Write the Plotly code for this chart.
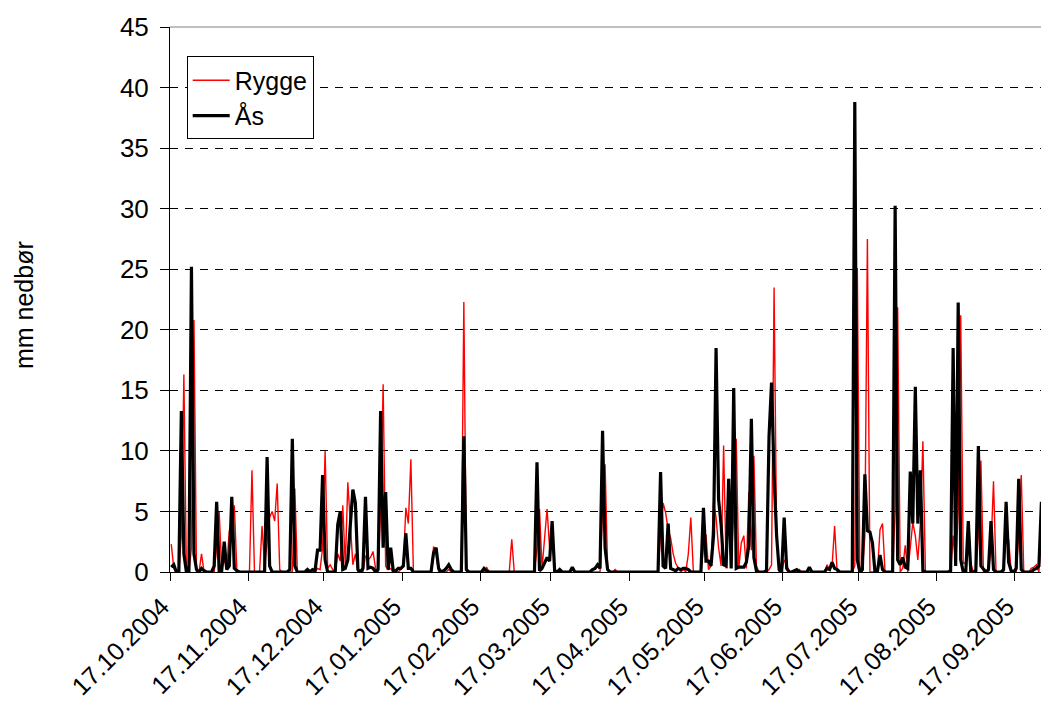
import datetime as dt
import plotly.graph_objects as go

start_date = "2004-10-17"
tick_dates = ["2004-10-17", "2004-11-17", "2004-12-17", "2005-01-17", "2005-02-17",
              "2005-03-17", "2005-04-17", "2005-05-17", "2005-06-17", "2005-07-17",
              "2005-08-17", "2005-09-17"]
tick_labels = ["17.10.2004", "17.11.2004", "17.12.2004", "17.01.2005", "17.02.2005",
               "17.03.2005", "17.04.2005", "17.05.2005", "17.06.2005", "17.07.2005",
               "17.08.2005", "17.09.2005"]

# daily precipitation (mm), 17.10.2004 - 30.09.2005
rygge = [
    2.3, 0.3, 0, 0, 3.0, 16.3, 0, 0, 2.0, 20.8,
    0, 0, 1.5, 0, 0, 0, 0, 0, 2.0, 5.0,
    0.2, 1.0, 0.3, 3.4, 4.0, 5.5, 0.2, 0, 0, 0,
    0, 0, 8.4, 0, 0, 0, 3.8, 0.5, 2.5, 4.5,
    5.0, 4.2, 7.3, 0.2, 0, 0, 0, 0, 0, 6.9,
    0, 0, 0, 0, 0, 0, 0, 0, 0.3, 0.2,
    2.0, 10.0, 0.3, 0.6, 0.2, 0, 1.5, 0.9, 5.5, 0.5,
    7.4, 3.8, 0.6, 1.5, 0, 0, 0, 1.35, 1.0, 1.2,
    1.7, 0.3, 0, 5.0, 15.5, 0.5, 0.2, 0.3, 0, 0,
    0, 0.2, 0.5, 5.3, 4.0, 9.3, 0, 0, 0, 0,
    0, 0, 0, 0, 2.1, 1.5, 0, 0, 0, 0,
    0.2, 0, 0, 0, 0, 0, 22.3, 0.1, 0, 0,
    0, 0, 0, 0, 0, 0.4, 0, 0, 0, 0,
    0, 0, 0, 0, 0, 2.7, 0, 0, 0, 0,
    0, 0, 0, 0, 0, 2.0, 5.2, 0.3, 2.5, 5.2,
    2.0, 3.0, 0, 0, 0, 0, 0, 0, 0, 0.2,
    0, 0, 0, 0, 0, 0, 0, 0, 0, 0,
    0, 5.0, 8.9, 0.3, 0, 0, 0.2, 0, 0, 0,
    0, 0, 0, 0, 0, 0, 0, 0, 0, 0,
    0, 0, 0, 0, 3.0, 5.7, 4.9, 3.5, 2.8, 1.5,
    0.7, 0.3, 0, 0.2, 0, 1.5, 4.5, 0, 0, 0,
    0, 2.0, 3.1, 0.2, 0.5, 5.7, 4.5, 2.0, 0.5, 10.45,
    0.3, 7.7, 0.5, 5.0, 11.0, 0.3, 2.4, 3.0, 0.3, 6.6,
    1.8, 9.6, 0.5, 0, 0, 0, 0, 0.2, 0.6, 23.5,
    3.0, 0, 0, 1.0, 0.6, 0, 0, 0, 0, 0.2,
    0, 0, 0, 0, 0, 0, 0, 0, 0, 0,
    0.6, 0.2, 0.5, 3.8, 0, 0, 0, 0, 0, 0,
    0, 0.5, 25.1, 0, 0, 3.0, 27.5, 0, 0, 0,
    0, 3.5, 4.0, 0, 0, 0, 0, 5.0, 21.85, 0,
    0.3, 2.2, 0, 2.0, 4.1, 3.0, 1.0, 4.0, 10.8, 0,
    0, 0, 0, 0, 0, 0, 0, 0, 0, 0,
    3.0, 0.5, 5.0, 21.2, 0.7, 0.8, 2.0, 0.7, 0, 0,
    3.0, 9.2, 0, 0, 0, 2.0, 7.5, 0, 0, 0,
    0, 3.0, 2.7, 0, 0, 0, 3.0, 8.0, 0, 0,
    0, 0.3, 0.4, 0.6, 0, 3.0, 4.4, 0.2, 0.5,
]

aas = [
    0.4, 0.6, 0, 0, 13.3, 1.5, 0, 0, 25.2, 1.5,
    0.2, 0, 0.3, 0.1, 0, 0, 0, 0.5, 5.8, 0,
    0.1, 2.5, 0.2, 0.5, 6.2, 0.3, 0.1, 0, 0, 0,
    0, 0, 0, 0, 0, 0, 0, 0, 9.5, 0.5,
    0, 0, 0, 0, 0, 0, 0, 0.2, 11.0, 0.5,
    0, 0, 0, 0, 0.2, 0, 0.2, 0.1, 1.8, 1.8,
    8.0, 1.0, 0, 0, 0, 0, 3.9, 5.0, 0.2, 0.3,
    1.0, 3.8, 6.8, 5.7, 0.2, 0, 0.3, 6.2, 0.3, 0.4,
    0.3, 0, 0.2, 13.3, 2.0, 6.6, 0.2, 2.0, 0.1, 0.1,
    0.3, 0.3, 0.5, 3.2, 0.3, 0.3, 0, 0, 0, 0,
    0, 0, 0, 0, 1.6, 2.0, 0.3, 0, 0.1, 0.3,
    0.6, 0.2, 0, 0, 0, 0, 11.2, 0.2, 0, 0,
    0, 0, 0, 0, 0.3, 0.1, 0, 0, 0, 0,
    0, 0, 0, 0, 0, 0, 0, 0, 0, 0,
    0, 0, 0, 0, 0, 9.05, 0.1, 0.3, 0.8, 1.2,
    0.9, 4.2, 0.1, 0, 0.2, 0, 0, 0, 0, 0.4,
    0, 0, 0, 0, 0, 0, 0, 0.2, 0.3, 0.6,
    0.3, 11.66, 2.0, 0.2, 0, 0, 0, 0, 0, 0,
    0, 0, 0, 0, 0, 0, 0, 0, 0, 0,
    0, 0, 0, 0, 8.25, 0.5, 0.3, 4.0, 0.3, 0.2,
    0.1, 0.3, 0.2, 0.3, 0.3, 0.2, 0, 0, 0, 0,
    0, 5.3, 0.9, 0.9, 0.5, 3.0, 18.5, 6.0, 3.9, 0.6,
    0.5, 7.7, 0.3, 15.2, 0.3, 0.4, 0.4, 0.4, 0.8, 2.2,
    12.65, 1.2, 0.1, 0, 0, 0, 0.1, 11.2, 15.65, 8.0,
    3.0, 0.2, 0, 4.5, 0.3, 0, 0, 0.1, 0.2, 0,
    0, 0, 0, 0.4, 0, 0, 0, 0, 0, 0,
    0.3, 0.2, 0.8, 0.3, 0.2, 0, 0, 0, 0, 0,
    0, 38.8, 1.0, 0, 0.2, 8.06, 3.4, 3.3, 2.4, 0,
    0.1, 1.4, 0.2, 0, 0, 0, 0, 30.25, 1.0, 0.6,
    1.2, 0.4, 0.3, 8.3, 4.0, 15.3, 4.0, 8.4, 0.1, 0,
    0, 0, 0, 0.05, 0, 0, 0, 0, 0, 0.1,
    18.5, 0.5, 22.25, 1.0, 0, 0, 4.2, 0, 0, 0.1,
    10.4, 0.5, 0.2, 0, 0.2, 4.2, 0.2, 0, 0, 0,
    0.2, 5.8, 0.8, 0.1, 0, 0.3, 7.7, 0.2, 0, 0,
    0, 0, 0.2, 0.3, 0.5, 5.8, 0.5, 0.3, 1.8,
]

t0 = dt.datetime.fromisoformat(start_date)
dates = [t0 + dt.timedelta(days=i, hours=12) for i in range(len(rygge))]
x_end = dates[-1]

fig = go.Figure()
fig.add_trace(go.Scatter(x=dates, y=rygge, mode="lines", name="Rygge",
                         line=dict(color="#FF0000", width=1.4)))
fig.add_trace(go.Scatter(x=dates, y=aas, mode="lines", name="Ås",
                         line=dict(color="#000000", width=3.2)))

font_family = "Liberation Sans, Arial, sans-serif"
# the page body adds an 8px offset, so the figure is 8px smaller than the window
fig.update_layout(
    width=1041, height=698,
    margin=dict(l=162, r=0, t=19, b=134, autoexpand=False),
    paper_bgcolor="white", plot_bgcolor="white",
    font=dict(family=font_family, color="black", size=26),
    showlegend=True,
    legend=dict(x=0.019, y=0.946, xanchor="left", yanchor="top",
                bordercolor="black", borderwidth=1, bgcolor="white",
                font=dict(size=25), tracegroupgap=0, itemwidth=37),
    xaxis=dict(type="date", range=[t0, x_end], automargin=False,
               tickvals=tick_dates, ticktext=tick_labels, tickangle=-45,
               ticks="outside", ticklen=8, tickcolor="black",
               showline=True, linecolor="black", linewidth=1,
               showgrid=False, zeroline=False,
               tickfont=dict(size=25), ticklabelshift=-8, ticklabelstandoff=1),
    yaxis=dict(range=[0, 45], dtick=5, tick0=0, automargin=False,
               ticks="outside", ticklen=9, tickcolor="black",
               showline=True, linecolor="black", linewidth=1,
               showgrid=True, gridcolor="black", gridwidth=1, griddash="8px,7px",
               zeroline=False, tickfont=dict(size=26), ticklabelstandoff=6),
    shapes=[dict(type="line", xref="paper", yref="paper", x0=0, x1=1, y0=1, y1=1,
                 line=dict(color="#808080", width=1))],
    annotations=[dict(text="mm nedbør", xref="paper", yref="paper",
                      x=-0.166, y=0.49, xanchor="center", yanchor="middle",
                      textangle=-90, showarrow=False, font=dict(size=25))],
)

fig.write_html("out.html")
